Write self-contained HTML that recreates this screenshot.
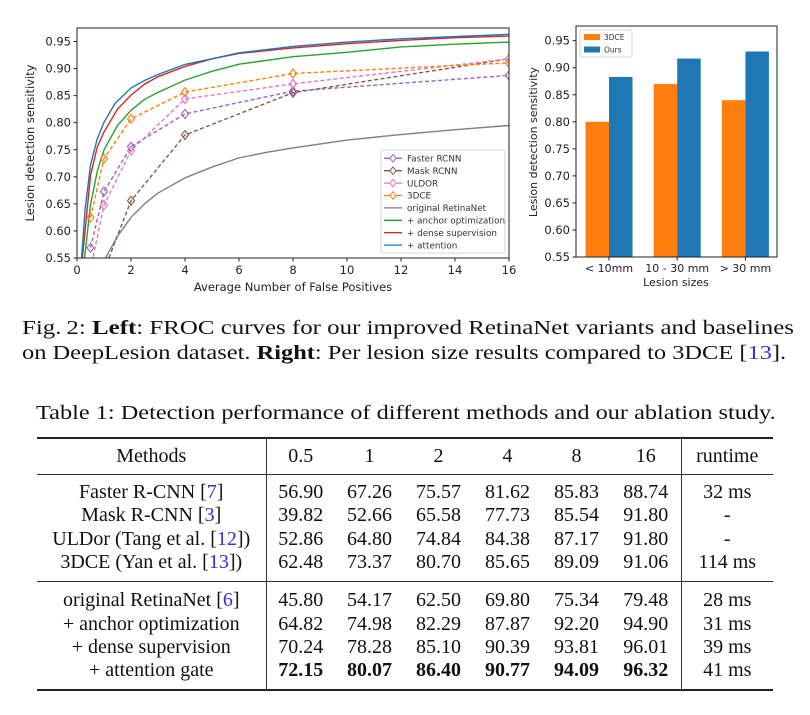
<!DOCTYPE html>
<html><head><meta charset="utf-8">
<style>
body{margin:0;background:#fff;width:810px;height:715px;overflow:hidden;position:relative;font-family:"Liberation Serif",serif;}
svg text{font-family:"DejaVu Sans",sans-serif;}
.cap{position:absolute;left:22px;font-size:19.5px;color:#111;white-space:nowrap;transform-origin:0 0;}
.ref{color:#3a2bd8;}
table{position:absolute;left:37px;top:437px;border-collapse:collapse;font-size:20px;color:#111;width:736px;}
td{padding:0;height:23.3px;line-height:23px;text-align:center;}
</style></head><body>
<svg id="chart" width="810" height="300" style="position:absolute;left:0;top:0"></svg>
<div class="cap" style="top:318px;transform:scaleX(1.277)">Fig.&#8201;2: <b>Left</b>: FROC curves for our improved RetinaNet variants and baselines</div>
<div class="cap" style="top:343px;transform:scaleX(1.252)">on DeepLesion dataset. <b>Right</b>: Per lesion size results compared to 3DCE [<span class="ref">13</span>].</div>
<div class="cap" style="top:403px;left:36px;transform:scaleX(1.247)">Table 1: Detection performance of different methods and our ablation study.</div>
<table>
<colgroup><col style="width:229px"><col style="width:69px"><col style="width:69px"><col style="width:69px"><col style="width:69px"><col style="width:69px"><col style="width:70px"><col></colgroup>
<tr style="border-top:2px solid #222;border-bottom:1.5px solid #333"><td style="height:35px;border-right:1px solid #333">Methods</td><td>0.5</td><td>1</td><td>2</td><td>4</td><td>8</td><td style="border-right:1px solid #333">16</td><td>runtime</td></tr>
<tr><td style="border-right:1px solid #333;padding-top:6px">Faster R-CNN [<span class="ref">7</span>]</td><td style="padding-top:6px">56.90</td><td style="padding-top:6px">67.26</td><td style="padding-top:6px">75.57</td><td style="padding-top:6px">81.62</td><td style="padding-top:6px">85.83</td><td style="border-right:1px solid #333;padding-top:6px">88.74</td><td style="padding-top:6px">32 ms</td></tr>
<tr><td style="border-right:1px solid #333">Mask R-CNN [<span class="ref">3</span>]</td><td>39.82</td><td>52.66</td><td>65.58</td><td>77.73</td><td>85.54</td><td style="border-right:1px solid #333">91.80</td><td>-</td></tr>
<tr><td style="border-right:1px solid #333">ULDor (Tang et al. [<span class="ref">12</span>])</td><td>52.86</td><td>64.80</td><td>74.84</td><td>84.38</td><td>87.17</td><td style="border-right:1px solid #333">91.80</td><td>-</td></tr>
<tr style="border-bottom:1.5px solid #333"><td style="border-right:1px solid #333;padding-bottom:7px">3DCE (Yan et al. [<span class="ref">13</span>])</td><td style="padding-bottom:7px">62.48</td><td style="padding-bottom:7px">73.37</td><td style="padding-bottom:7px">80.70</td><td style="padding-bottom:7px">85.65</td><td style="padding-bottom:7px">89.09</td><td style="border-right:1px solid #333;padding-bottom:7px">91.06</td><td style="padding-bottom:7px">114 ms</td></tr>
<tr><td style="border-right:1px solid #333;padding-top:7px">original RetinaNet [<span class="ref">6</span>]</td><td style="padding-top:7px">45.80</td><td style="padding-top:7px">54.17</td><td style="padding-top:7px">62.50</td><td style="padding-top:7px">69.80</td><td style="padding-top:7px">75.34</td><td style="border-right:1px solid #333;padding-top:7px">79.48</td><td style="padding-top:7px">28 ms</td></tr>
<tr><td style="border-right:1px solid #333">+ anchor optimization</td><td>64.82</td><td>74.98</td><td>82.29</td><td>87.87</td><td>92.20</td><td style="border-right:1px solid #333">94.90</td><td>31 ms</td></tr>
<tr><td style="border-right:1px solid #333">+ dense supervision</td><td>70.24</td><td>78.28</td><td>85.10</td><td>90.39</td><td>93.81</td><td style="border-right:1px solid #333">96.01</td><td>39 ms</td></tr>
<tr style="border-bottom:2px solid #222"><td style="border-right:1px solid #333;padding-bottom:7px">+ attention gate</td><td style="padding-bottom:7px"><b>72.15</b></td><td style="padding-bottom:7px"><b>80.07</b></td><td style="padding-bottom:7px"><b>86.40</b></td><td style="padding-bottom:7px"><b>90.77</b></td><td style="padding-bottom:7px"><b>94.09</b></td><td style="border-right:1px solid #333;padding-bottom:7px"><b>96.32</b></td><td style="padding-bottom:7px">41 ms</td></tr>
</table>
<script>
// ---- left FROC chart data ----
const markerFP = [0.5, 1, 2, 4, 8, 16];
const fasterRcnn = [0.5690, 0.6726, 0.7557, 0.8162, 0.8583, 0.8874];
const maskRcnn = [0.3982, 0.5266, 0.6558, 0.7773, 0.8554, 0.9180];
const uldor = [0.5286, 0.6480, 0.7484, 0.8438, 0.8717, 0.9180];
const dce3 = [0.6248, 0.7337, 0.8070, 0.8565, 0.8909, 0.9106];
const retinaFP = [1.0, 1.5, 2, 2.5, 3, 4, 5, 6, 7, 8, 10, 12, 14, 16];
const retinaVals = [0.545, 0.59, 0.625, 0.65, 0.67, 0.698, 0.718, 0.735, 0.745, 0.7534, 0.768, 0.778, 0.787, 0.7948];
const anchorFP = [0.28, 0.5, 0.75, 1, 1.5, 2, 2.5, 3, 4, 5, 6, 8, 10, 12, 14, 16];
const anchorVals = [0.55, 0.6482, 0.71, 0.7498, 0.795, 0.8229, 0.843, 0.856, 0.8787, 0.895, 0.908, 0.922, 0.93, 0.94, 0.945, 0.949];
const denseFP = [0.2, 0.5, 0.75, 1, 1.5, 2, 2.5, 3, 4, 5, 6, 8, 10, 12, 14, 16];
const denseVals = [0.55, 0.7024, 0.755, 0.7828, 0.825, 0.851, 0.871, 0.885, 0.9039, 0.918, 0.928, 0.9381, 0.946, 0.952, 0.957, 0.9601];
const attnFP = [0.17, 0.3, 0.5, 0.75, 1, 1.4, 2, 2.5, 3, 4, 5, 6, 8, 10, 12, 14, 16];
const attnVals = [0.55, 0.64, 0.7215, 0.77, 0.8007, 0.835, 0.864, 0.878, 0.889, 0.9077, 0.918, 0.929, 0.9409, 0.949, 0.955, 0.959, 0.9632];
const leftXTicks = [0, 2, 4, 6, 8, 10, 12, 14, 16];
const yTicks = [0.55, 0.60, 0.65, 0.70, 0.75, 0.80, 0.85, 0.90, 0.95];
// ---- right bar chart data ----
const sizeCats = ["< 10mm", "10 - 30 mm", "> 30 mm"];
const bar3dce = [0.80, 0.87, 0.84];
const barOurs = [0.883, 0.917, 0.930];

const NS = "http://www.w3.org/2000/svg";
const svg = document.getElementById("chart");
function mk(tag, attrs, parent) {
  const e = document.createElementNS(NS, tag);
  for (const k in attrs) e.setAttribute(k, attrs[k]);
  (parent || svg).appendChild(e);
  return e;
}
function txt(s, attrs, parent) { const t = mk("text", attrs, parent); t.textContent = s; return t; }

const L = {x0: 77, x1: 509, yTop: 28, yBot: 258};
const lx = v => L.x0 + (v / 16) * (L.x1 - L.x0);
const ly = v => 258 - (v - 0.55) / 0.40 * (258 - 41.5);
const defs = mk("defs", {});
const cp = mk("clipPath", {id: "clipL"}, defs);
mk("rect", {x: L.x0, y: L.yTop, width: L.x1 - L.x0, height: L.yBot - L.yTop}, cp);

const gL = mk("g", {"clip-path": "url(#clipL)"});


function line(xs, ys, color, dash, name) {
  const p = mk("polyline", {points: xs.map((x, i) => lx(x) + "," + ly(ys[i])).join(" "), fill: "none", stroke: color, "stroke-width": 1.4, "stroke-dasharray": dash || "none"}, gL);
  
  
}
function markers(ys, color, name) {
  markerFP.forEach((x, i) => {
    const cx = lx(x), cy = ly(ys[i]);
    const m = mk("polygon", {points: `${cx},${cy-4.5} ${cx+3.5},${cy} ${cx},${cy+4.5} ${cx-3.5},${cy}`, fill: "none", stroke: color, "stroke-width": 1.1}, gL);
    
    
  });
}
line(retinaFP, retinaVals, "#7f7f7f", null, "original-retinanet-line");
line(anchorFP, anchorVals, "#2ca02c", null, "anchor-optimization-line");
line(denseFP, denseVals, "#d62728", null, "dense-supervision-line");
line(attnFP, attnVals, "#1f77b4", null, "attention-line");
line(markerFP, maskRcnn, "#8c564b", "4,2.5", "mask-rcnn-line");
line(markerFP, fasterRcnn, "#9467bd", "4,2.5", "faster-rcnn-line");
line(markerFP, uldor, "#e377c2", "4,2.5", "uldor-line");
line(markerFP, dce3, "#ff7f0e", "4,2.5", "3dce-line");
markers(maskRcnn, "#8c564b", "mask-rcnn-marker");
markers(fasterRcnn, "#9467bd", "faster-rcnn-marker");
markers(uldor, "#e377c2", "uldor-marker");
markers(dce3, "#ff7f0e", "3dce-marker");

const frame = mk("rect", {x: L.x0, y: L.yTop, width: L.x1 - L.x0, height: L.yBot - L.yTop, fill: "none", stroke: "#222", "stroke-width": 1});


leftXTicks.forEach(v => {
  mk("line", {x1: lx(v), x2: lx(v), y1: L.yBot, y2: L.yBot + 3.5, stroke: "#222"});
  const t = txt(v, {x: lx(v), y: L.yBot + 16, "font-size": 11.5, "text-anchor": "middle", fill: "#222"});
  
  
});
yTicks.forEach(v => {
  mk("line", {x1: L.x0 - 3.5, x2: L.x0, y1: ly(v), y2: ly(v), stroke: "#222"});
  const t = txt(v.toFixed(2), {x: L.x0 - 6, y: ly(v) + 4, "font-size": 11.5, "text-anchor": "end", fill: "#222"});
  
  
});
const xt = txt("Average Number of False Positives", {x: 293, y: 291, "font-size": 11.5, "text-anchor": "middle", fill: "#222"});


const yt = txt("Lesion detection sensitivity", {x: 0, y: 0, "font-size": 11.5, "text-anchor": "middle", fill: "#222", transform: "translate(34,143) rotate(-90)"});



const legItems = [["Faster RCNN", "#9467bd", 1], ["Mask RCNN", "#8c564b", 1], ["ULDOR", "#e377c2", 1], ["3DCE", "#ff7f0e", 1],
  ["original RetinaNet", "#7f7f7f", 0], ["+ anchor optimization", "#2ca02c", 0], ["+ dense supervision", "#d62728", 0], ["+ attention", "#1f77b4", 0]];
const lg = mk("g", {});


mk("rect", {x: 381, y: 150, width: 124, height: 103, rx: 2, fill: "#fff", "fill-opacity": 0.85, stroke: "#ccc", "stroke-width": 0.8}, lg);
legItems.forEach((it, i) => {
  const y = 158.3 + i * 12.4;
  const g = mk("g", {}, lg);
  
  
  mk("line", {x1: 384, x2: 402, y1: y, y2: y, stroke: it[1], "stroke-width": 1.3}, g);
  if (it[2]) mk("polygon", {points: `393,${y-3.8} 396,${y} 393,${y+3.8} 390,${y}`, fill: "#fff", stroke: it[1], "stroke-width": 1}, g);
  txt(it[0], {x: 407, y: y + 3.2, "font-size": 8.8, fill: "#333"}, g);
});

const R = {x0: 576, x1: 777, yTop: 26, yBot: 257};
const ry = v => 257 - (v - 0.55) / 0.40 * (257 - 40.7);
const bw = 23.5;
const gc = i => R.x0 + 33 + i * 68.2;
sizeCats.forEach((c, i) => {
  const b1 = mk("rect", {x: gc(i) - bw, y: ry(bar3dce[i]), width: bw, height: R.yBot - ry(bar3dce[i]), fill: "#ff7f0e"});
  
  
  const b2 = mk("rect", {x: gc(i), y: ry(barOurs[i]), width: bw, height: R.yBot - ry(barOurs[i]), fill: "#1f77b4"});
  
  
  mk("line", {x1: gc(i), x2: gc(i), y1: R.yBot, y2: R.yBot + 3.5, stroke: "#222"});
  const t = txt(c, {x: gc(i), y: R.yBot + 15, "font-size": 11, "text-anchor": "middle", fill: "#222"});
  
  
});
const rf = mk("rect", {x: R.x0, y: R.yTop, width: R.x1 - R.x0, height: R.yBot - R.yTop, fill: "none", stroke: "#222", "stroke-width": 1});


yTicks.forEach(v => {
  mk("line", {x1: R.x0 - 3.5, x2: R.x0, y1: ry(v), y2: ry(v), stroke: "#222"});
  const t = txt(v.toFixed(2), {x: R.x0 - 6, y: ry(v) + 4, "font-size": 11.5, "text-anchor": "end", fill: "#222"});
  
  
});
const rxt = txt("Lesion sizes", {x: 676, y: 286, "font-size": 11, "text-anchor": "middle", fill: "#222"});


const ryt = txt("Lesion detection sensitivity", {x: 0, y: 0, "font-size": 11, "text-anchor": "middle", fill: "#222", transform: "translate(537,142) rotate(-90)"});


const rl = mk("g", {});


mk("rect", {x: 580, y: 30, width: 52, height: 27, rx: 2, fill: "#fff", stroke: "#ccc", "stroke-width": 0.8}, rl);
[["3DCE", "#ff7f0e"], ["Ours", "#1f77b4"]].forEach((it, i) => {
  const y = 37 + i * 12.5;
  const g = mk("g", {}, rl);
  
  
  mk("rect", {x: 584, y: y - 3, width: 16, height: 6, fill: it[1]}, g);
  txt(it[0], {x: 604, y: y + 3, "font-size": 7.5, fill: "#333"}, g);
});
</script>
</body></html>
